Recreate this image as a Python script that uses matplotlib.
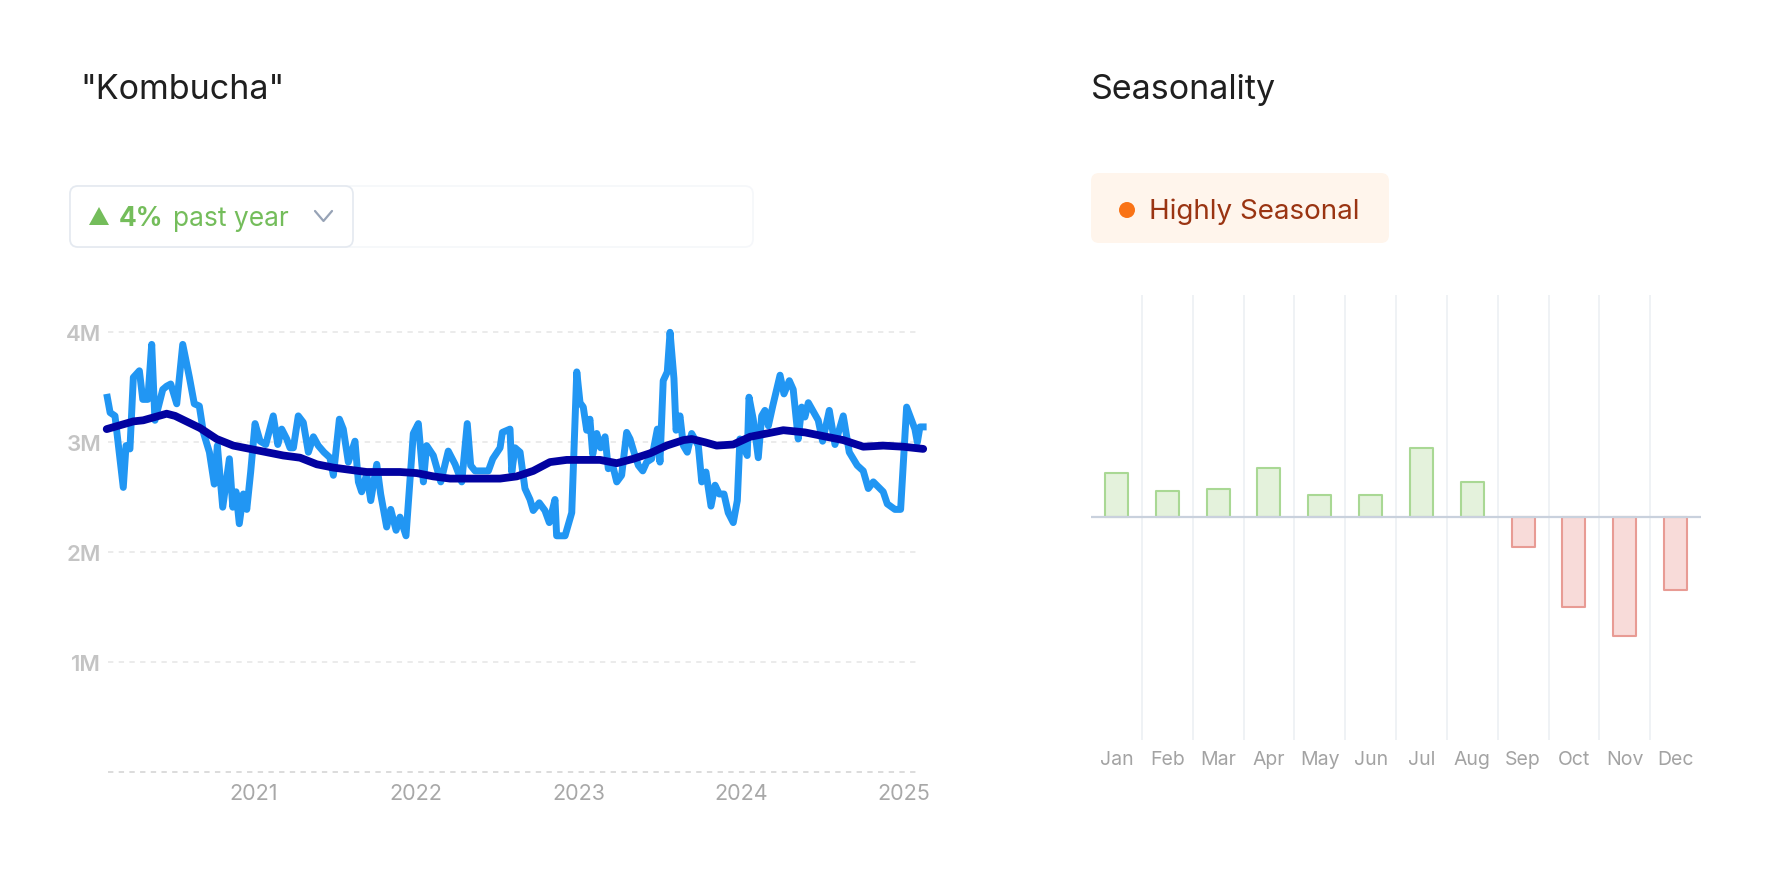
import numpy as np
import matplotlib.pyplot as plt
from matplotlib.patches import FancyBboxPatch, Polygon, Circle
from matplotlib.lines import Line2D
from matplotlib.transforms import IdentityTransform

# ---------------------------------------------------------------------------
# DATA
# ---------------------------------------------------------------------------
# search volume, decimal year -> millions
volume_t = [
    2020.097, 2020.118, 2020.148, 2020.199, 2020.216, 2020.240, 2020.261, 2020.298,
    2020.319, 2020.350, 2020.374, 2020.394, 2020.442, 2020.466, 2020.491, 2020.528,
    2020.565, 2020.606, 2020.636, 2020.667, 2020.692, 2020.729, 2020.759, 2020.778,
    2020.811, 2020.852, 2020.873, 2020.893, 2020.913, 2020.938, 2020.959, 2020.983,
    2021.010, 2021.041, 2021.076, 2021.122, 2021.150, 2021.174, 2021.205, 2021.225,
    2021.246, 2021.276, 2021.307, 2021.338, 2021.369, 2021.399, 2021.434, 2021.471,
    2021.492, 2021.529, 2021.553, 2021.584, 2021.625, 2021.646, 2021.666, 2021.697,
    2021.722, 2021.759, 2021.783, 2021.820, 2021.845, 2021.878, 2021.902, 2021.939,
    2021.984, 2022.015, 2022.046, 2022.066, 2022.107, 2022.153, 2022.199, 2022.241,
    2022.282, 2022.316, 2022.337, 2022.364, 2022.446, 2022.473, 2022.518, 2022.532,
    2022.579, 2022.590, 2022.610, 2022.641, 2022.671, 2022.702, 2022.722, 2022.759,
    2022.794, 2022.821, 2022.856, 2022.866, 2022.918, 2022.959, 2022.990, 2023.010,
    2023.030, 2023.051, 2023.071, 2023.088, 2023.113, 2023.137, 2023.164, 2023.184,
    2023.211, 2023.236, 2023.266, 2023.297, 2023.318, 2023.342, 2023.369, 2023.396,
    2023.420, 2023.451, 2023.486, 2023.502, 2023.522, 2023.547, 2023.564, 2023.588,
    2023.601, 2023.625, 2023.646, 2023.670, 2023.697, 2023.738, 2023.759, 2023.785,
    2023.816, 2023.841, 2023.867, 2023.896, 2023.922, 2023.953, 2023.978, 2023.994,
    2024.039, 2024.050, 2024.076, 2024.107, 2024.128, 2024.148, 2024.169, 2024.196,
    2024.241, 2024.265, 2024.298, 2024.322, 2024.353, 2024.374, 2024.394, 2024.415,
    2024.476, 2024.503, 2024.544, 2024.579, 2024.630, 2024.667, 2024.716, 2024.753,
    2024.784, 2024.815, 2024.876, 2024.901, 2024.948, 2024.983, 2025.020, 2025.071,
    2025.086, 2025.102, 2025.143,
]
volume_m = [
    3.44, 3.27, 3.24, 2.59, 2.97, 2.94, 3.59, 3.65,
    3.39, 3.39, 3.89, 3.20, 3.48, 3.51, 3.53, 3.35,
    3.89, 3.59, 3.35, 3.33, 3.09, 2.91, 2.62, 2.97,
    2.41, 2.85, 2.41, 2.55, 2.26, 2.53, 2.39, 2.73,
    3.17, 3.01, 2.98, 3.24, 2.98, 3.12, 3.03, 2.95,
    2.95, 3.24, 3.18, 2.91, 3.05, 2.97, 2.91, 2.86,
    2.70, 3.21, 3.12, 2.82, 3.01, 2.64, 2.55, 2.71,
    2.47, 2.80, 2.53, 2.23, 2.39, 2.20, 2.32, 2.15,
    3.08, 3.17, 2.64, 2.97, 2.88, 2.64, 2.92, 2.80,
    2.64, 3.17, 2.79, 2.74, 2.74, 2.85, 2.95, 3.09,
    3.12, 2.73, 2.95, 2.91, 2.58, 2.48, 2.38, 2.45,
    2.38, 2.27, 2.48, 2.15, 2.15, 2.36, 3.64, 3.36,
    3.32, 3.11, 3.21, 2.89, 3.08, 2.95, 3.05, 2.76,
    2.79, 2.64, 2.70, 3.09, 3.03, 2.91, 2.79, 2.74,
    2.82, 2.85, 3.12, 2.82, 3.56, 3.64, 4.00, 3.58,
    3.11, 3.24, 2.97, 2.91, 3.08, 2.97, 2.64, 2.73,
    2.42, 2.61, 2.53, 2.53, 2.36, 2.27, 2.47, 3.03,
    2.88, 3.41, 3.21, 2.86, 3.24, 3.29, 3.15, 3.33,
    3.61, 3.44, 3.56, 3.48, 3.03, 3.32, 3.23, 3.36,
    3.20, 3.01, 3.29, 2.98, 3.24, 2.91, 2.79, 2.74,
    2.58, 2.64, 2.55, 2.44, 2.39, 2.39, 3.32, 3.12,
    3.00, 3.14, 3.14,
]

# trend line
trend_t = [
    2020.097, 2020.261, 2020.322, 2020.466, 2020.518, 2020.671, 2020.774, 2020.876,
    2020.979, 2021.082, 2021.184, 2021.287, 2021.390, 2021.492, 2021.594, 2021.697,
    2021.799, 2021.902, 2022.005, 2022.107, 2022.210, 2022.313, 2022.415, 2022.518,
    2022.620, 2022.722, 2022.825, 2022.928, 2023.030, 2023.133, 2023.236, 2023.338,
    2023.441, 2023.543, 2023.646, 2023.697, 2023.779, 2023.851, 2023.953, 2024.056,
    2024.159, 2024.261, 2024.394, 2024.528, 2024.630, 2024.753, 2024.877, 2024.999,
    2025.122,
]
trend_m = [
    3.12, 3.19, 3.20, 3.26, 3.24, 3.13, 3.03, 2.97,
    2.94, 2.91, 2.88, 2.86, 2.80, 2.77, 2.75, 2.73,
    2.73, 2.73, 2.72, 2.69, 2.67, 2.67, 2.67, 2.67,
    2.69, 2.74, 2.82, 2.84, 2.84, 2.84, 2.81, 2.85,
    2.90, 2.97, 3.02, 3.03, 3.00, 2.97, 2.98, 3.05,
    3.08, 3.11, 3.09, 3.05, 3.02, 2.96, 2.97, 2.96,
    2.94,
]

year_ticks = [2021, 2022, 2023, 2024, 2025]
y_ticks = [1, 2, 3, 4]
y_labels = ["1M", "2M", "3M", "4M"]

months = ["Jan", "Feb", "Mar", "Apr", "May", "Jun",
          "Jul", "Aug", "Sep", "Oct", "Nov", "Dec"]
seasonality = [19.8, 11.9, 12.9, 22.0, 9.9, 9.9, 31.0, 16.0, -13.2, -40.3, -53.4, -32.8]

title_left = '"Kombucha"'
title_right = "Seasonality"
growth_pct = "4%"
growth_text = "past year"
season_label = "Highly Seasonal"

# ---------------------------------------------------------------------------
# FIGURE
# ---------------------------------------------------------------------------
plt.rcParams['font.family'] = ['Inter', 'DejaVu Sans']

W, H = 1782, 878
fig = plt.figure(figsize=(W / 100, H / 100), dpi=100)
fig.patch.set_facecolor('white')
PIX = IdentityTransform()


def fx(x):
    return x / W


def fy(y):
    return 1 - y / H


def rbox(x, y, w, h, r, fc, ec, lw=1.2):
    p = FancyBboxPatch((x, H - y - h), w, h, boxstyle=f"round,pad=0,rounding_size={r}",
                       fc=fc, ec=ec, lw=lw, transform=PIX)
    fig.add_artist(p)


# titles
fig.text(fx(80), fy(90), title_left, fontsize=24.5, color='#1f1f1f', va='center', ha='left')
fig.text(fx(1091), fy(90), title_right, fontsize=24.5, color='#1f1f1f', va='center', ha='left')

# growth badge
rbox(70, 187, 683, 61, 8, 'white', '#f5f7fa')
rbox(70, 187, 283, 61, 8, 'white', '#e4e9f0')
green = '#74bd5b'
fig.add_artist(Polygon([(89, H - 226), (109, H - 226), (99, H - 208)], closed=True,
                       fc=green, ec='none', transform=PIX))
fig.text(fx(119), fy(219), growth_pct, fontsize=19, fontweight='bold', color=green,
         va='center', ha='left')
fig.text(fx(173), fy(219), growth_text, fontsize=19, color=green, va='center', ha='left')
fig.add_artist(Line2D([315, 323.5, 332], [H - 212, H - 222, H - 212], color='#97a3b6',
                      lw=1.6, solid_capstyle='round', transform=PIX))

# seasonality badge
rbox(1091, 174, 298, 70, 8, '#fff5ec', 'none', lw=0)
fig.add_artist(Circle((1127, H - 211), 8, fc='#f97316', ec='none', transform=PIX))
fig.text(fx(1149), fy(212), season_label, fontsize=20, color='#9a3412', va='center', ha='left')

# ---------------------------------------------------------------------------
# LINE CHART
# ---------------------------------------------------------------------------
ax = fig.add_axes([fx(108), fy(773.3), (918 - 108) / W, (773.3 - 322.3) / H])
ax.set_xlim(2020.105, 2025.09)
ax.set_ylim(0, 4.1)
for s in ax.spines.values():
    s.set_visible(False)

ax.plot(volume_t, volume_m, color='#2196f3', lw=5.0, solid_joinstyle='round',
        solid_capstyle='butt', clip_on=False, zorder=3)
ax.plot(trend_t, trend_m, color='#0202a0', lw=5.6, solid_joinstyle='round',
        solid_capstyle='round', clip_on=False, zorder=4)

for v in y_ticks:
    ax.axhline(v, color='#e6e6e6', lw=1.1, dashes=(3.5, 3.5), zorder=1)
ax.axhline(0, color='#d2d2d2', lw=1.1, dashes=(3.5, 3.5), zorder=1, clip_on=False)

ax.set_yticks(y_ticks)
ax.set_yticklabels(y_labels)
ax.set_xticks(year_ticks)
ax.set_xticklabels([str(y) for y in year_ticks])
ax.tick_params(axis='y', length=0, pad=5, labelsize=16, labelcolor='#c4c4c4')
ax.tick_params(axis='x', length=0, pad=8, labelsize=15.5, labelcolor='#a8a8a8')
for lab in ax.get_yticklabels():
    lab.set_fontweight('semibold')

# ---------------------------------------------------------------------------
# SEASONALITY BARS
# ---------------------------------------------------------------------------
ax2 = fig.add_axes([fx(1091), fy(741), 610 / W, (741 - 295.5) / H])
ax2.set_xlim(-0.5, 11.5)
ax2.set_ylim(-100, 100)
for s in ax2.spines.values():
    s.set_visible(False)

ax2.vlines(np.arange(0.5, 11.0, 1.0), -100, 100, color='#eef1f5', lw=1.3, zorder=0)
ax2.axhline(0, color='#c9d1dd', lw=1.6, zorder=3)

x = np.arange(len(months))
vals = np.array(seasonality)
fc = np.where(vals >= 0, '#e4f2dc', '#f8dbd9')
ec = np.where(vals >= 0, '#a9d894', '#e89b94')
ax2.bar(x, vals, width=0.45, color=fc, edgecolor=ec, lw=1.5, zorder=2, joinstyle='round')

ax2.set_yticks([])
ax2.set_xticks(x)
ax2.set_xticklabels(months)
ax2.tick_params(axis='x', length=0, pad=7, labelsize=14, labelcolor='#a3a3a3')

fig.savefig('out.png', dpi=100)
